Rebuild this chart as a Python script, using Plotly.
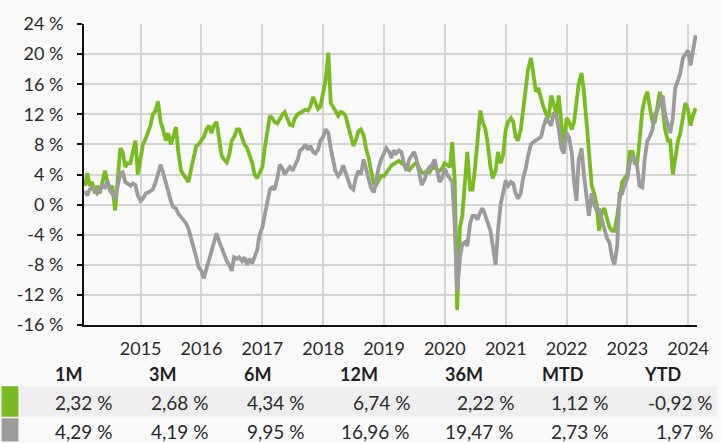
import pandas as pd
import plotly.graph_objects as go

# Semi-monthly cumulative performance (%), Feb 2014 - Feb 2024
fund_2014 = [2.5, 4.2, 2.5, 3.0, 1.5, 2.5, 1.5, 3.0, 4.5, 3.0, 2.0, 2.5, -0.8, 3.0, 7.5, 7.0, 5.0, 5.5, 5.5, 7.0, 8.5, 4.0]
fund_2015 = [6.0, 8.0, 8.8, 9.5, 10.5, 12.0, 12.5, 13.7, 11.0, 10.0, 8.5, 9.5, 8.0, 9.0, 10.3, 7.0, 4.5, 4.0, 3.5, 3.0, 4.8, 6.5, 7.8, 8.0]
fund_2016 = [8.5, 9.0, 10.0, 10.5, 9.5, 10.5, 11.0, 8.5, 6.5, 6.0, 5.6, 6.5, 8.5, 9.0, 10.0, 10.0, 9.0, 8.0, 7.5, 6.5, 5.5, 4.0, 3.5, 4.2]
fund_2017 = [5.0, 7.5, 10.0, 11.8, 11.5, 11.0, 10.8, 11.5, 12.0, 12.3, 11.5, 10.6, 10.5, 11.5, 12.0, 12.2, 12.4, 12.6, 12.5, 13.0, 14.3, 13.5, 12.7, 13.0]
fund_2018 = [15.0, 16.5, 20.2, 13.5, 13.0, 12.5, 11.8, 12.3, 12.2, 11.8, 10.5, 9.0, 7.8, 8.5, 9.8, 10.0, 9.2, 7.5, 6.2, 4.5, 2.8, 2.6, 3.2, 3.8]
fund_2019 = [3.8, 4.3, 4.8, 5.2, 5.4, 5.6, 5.8, 5.5, 5.3, 4.8, 4.6, 5.0, 5.4, 5.6, 4.8, 4.3, 4.2, 4.5, 4.3, 4.8, 5.0, 4.6, 4.5, 4.8]
fund_2020 = [5.5, 5.3, 5.0, 8.3, 3.0, -14.0, -3.0, -1.5, 2.5, 7.0, 2.0, 2.0, 5.0, 8.5, 12.5, 11.0, 10.0, 8.0, 5.0, 3.5, 4.5, 7.0, 5.5, 6.5]
fund_2021 = [10.0, 11.0, 11.5, 11.0, 9.0, 8.5, 10.0, 12.5, 15.5, 18.0, 19.5, 17.0, 15.0, 15.5, 14.0, 13.0, 12.0, 11.5, 14.5, 13.5, 12.0, 14.5, 11.0, 7.5]
fund_2022 = [11.5, 11.0, 10.0, 11.0, 13.5, 16.0, 17.5, 15.0, 11.0, 6.5, 2.5, 1.5, 0.0, -3.5, -1.0, -0.5, -2.0, -3.0, -3.5, -3.5, -1.5, 0.5, 3.0, 3.5]
fund_2023 = [4.0, 7.0, 7.0, 5.5, 5.5, 8.5, 12.5, 14.0, 15.0, 13.0, 11.0, 11.0, 13.0, 15.0, 13.0, 10.0, 8.5, 8.5, 4.0, 6.0, 8.5, 9.5, 12.0, 13.5]
fund_2024 = [12.5, 10.5, 12.0, 12.8]

bench_2014 = [1.8, 1.2, 2.0, 2.2, 2.0, 1.5, 2.0, 2.5, 2.3, 3.2, 1.8, 1.5, 0.8, 2.5, 4.2, 4.3, 3.0, 2.8, 2.5, 2.8, 2.6, 1.2]
bench_2015 = [0.5, 0.8, 1.5, 1.6, 1.8, 2.0, 3.0, 4.3, 5.3, 4.3, 2.8, 1.5, 0.5, -0.3, -0.5, -1.2, -1.7, -2.0, -2.5, -3.2, -4.5, -5.5, -7.0, -8.3]
bench_2016 = [-8.8, -9.8, -8.5, -7.3, -6.0, -5.0, -3.8, -4.8, -5.8, -6.8, -7.5, -8.0, -8.8, -7.0, -7.2, -7.0, -7.5, -7.0, -8.0, -7.2, -7.8, -7.0, -6.0, -4.0]
bench_2017 = [-3.0, -1.4, 0.5, 2.0, 2.3, 2.0, 3.5, 5.3, 4.8, 4.0, 4.6, 5.0, 4.5, 5.3, 6.0, 7.2, 7.5, 8.0, 7.3, 7.8, 7.0, 6.8, 7.3, 8.5]
bench_2018 = [9.0, 10.0, 9.5, 7.5, 5.8, 4.5, 3.8, 4.2, 5.2, 4.2, 3.0, 2.3, 2.0, 3.5, 4.5, 4.0, 6.0, 4.8, 3.5, 2.2, 1.6, 3.5, 5.0, 6.0]
bench_2019 = [6.8, 7.5, 7.0, 6.2, 7.2, 6.8, 7.2, 7.0, 5.5, 4.5, 6.0, 6.5, 7.0, 6.0, 4.0, 2.6, 3.3, 4.3, 5.0, 5.2, 6.0, 4.8, 3.0, 3.5]
bench_2020 = [4.8, 4.0, 3.5, 3.0, -3.0, -11.5, -7.0, -5.3, -5.0, -5.5, -2.5, -1.5, -1.5, -2.0, -1.0, -0.5, -1.5, -2.5, -3.5, -5.5, -8.0, -3.5, 0.0, 1.5]
bench_2021 = [3.2, 2.5, 3.0, 2.8, 1.5, 0.8, 1.5, 3.5, 4.8, 6.5, 8.0, 8.3, 8.5, 8.7, 9.0, 10.3, 11.5, 11.0, 10.5, 12.2, 11.8, 10.0, 7.5, 6.8]
bench_2022 = [9.5, 9.0, 7.0, 3.0, 0.5, 6.0, 7.5, 4.0, 1.5, -1.5, 1.5, 0.0, -0.8, -0.5, -2.0, -3.0, -4.5, -5.0, -7.0, -8.0, -5.5, 1.5, 1.5, 2.5]
bench_2023 = [3.5, 5.5, 6.5, 6.0, 5.0, 2.5, 2.3, 6.0, 8.5, 9.0, 10.0, 12.0, 12.5, 13.5, 14.5, 12.0, 10.5, 9.5, 11.5, 15.5, 16.5, 17.5, 19.5, 20.0]
bench_2024 = [20.5, 18.5, 20.5, 22.5]

fund = (fund_2014 + fund_2015 + fund_2016 + fund_2017 + fund_2018 + fund_2019
        + fund_2020 + fund_2021 + fund_2022 + fund_2023 + fund_2024)
bench = (bench_2014 + bench_2015 + bench_2016 + bench_2017 + bench_2018 + bench_2019
         + bench_2020 + bench_2021 + bench_2022 + bench_2023 + bench_2024)
dates = pd.date_range("2014-02-01", periods=len(fund), freq="SMS")

year_ticks = ["2015", "2016", "2017", "2018", "2019", "2020", "2021", "2022", "2023", "2024"]
y_ticks = [-16, -12, -8, -4, 0, 4, 8, 12, 16, 20, 24]

# Performance table
periods = ["1M", "3M", "6M", "12M", "36M", "MTD", "YTD"]
perf_fund = [2.32, 2.68, 4.34, 6.74, 2.22, 1.12, -0.92]
perf_bench = [4.29, 4.19, 9.95, 16.96, 19.47, 2.73, 1.97]

GREEN = "#79bc21"
GREY = "#9b9b9b"
BG = "#f9f9f9"
TEXT = "#2a2a2a"
FONT = "Lato"

W, H = 721, 443
L, R, T, B = 84, 20, 20, 118
PW, PH = W - L - R, H - T - B


def px(x):
    return (x - L) / PW


def py(y):
    return (H - B - y) / PH


def fmt(v):
    return f"{v:.2f}".replace(".", ",") + " %"


fig = go.Figure()
fig.add_trace(go.Scatter(x=dates, y=fund, mode="lines",
                         line=dict(color=GREEN, width=3.8), hoverinfo="skip"))
fig.add_trace(go.Scatter(x=dates, y=bench, mode="lines",
                         line=dict(color=GREY, width=3.8), hoverinfo="skip"))

fig.update_layout(
    width=W, height=H,
    margin=dict(l=L, r=R, t=T, b=B),
    paper_bgcolor=BG, plot_bgcolor=BG,
    showlegend=False,
    font=dict(family=FONT, color=TEXT, size=17),
)
fig.update_xaxes(
    range=["2014-01-26", "2024-02-23"],
    tickvals=[f"{y}-01-01" for y in year_ticks], ticktext=year_ticks,
    showgrid=True, gridcolor="#d4d4d4", gridwidth=2,
    showline=True, linecolor="#111111", linewidth=2,
    ticks="", tickfont=dict(size=18, family=FONT, color=TEXT),
    ticklabelstandoff=6, zeroline=False,
)
fig.update_yaxes(
    range=[-16, 24],
    tickvals=y_ticks, ticktext=[f"{v} %" for v in y_ticks],
    showgrid=True, gridcolor="#d4d4d4", gridwidth=2,
    showline=True, linecolor="#111111", linewidth=2,
    ticks="outside", ticklen=5, tickcolor="#111111", tickwidth=1.5,
    tickfont=dict(size=18, family=FONT, color=TEXT),
    ticklabelstandoff=10, zeroline=False,
)

shapes = [
    dict(type="rect", xref="paper", yref="paper", x0=px(20), x1=px(721),
         y0=py(418), y1=py(387), fillcolor="#eeeeee", line=dict(width=0), layer="below"),
    dict(type="rect", xref="paper", yref="paper", x0=px(1), x1=px(18),
         y0=py(418), y1=py(387), fillcolor=GREEN, line=dict(width=0)),
    dict(type="rect", xref="paper", yref="paper", x0=px(1), x1=px(18),
         y0=py(443), y1=py(419.5), fillcolor=GREY, line=dict(width=0)),
]
fig.update_layout(shapes=shapes)

head_left = [53, 147, 243, 340, 445, 543, 646]
val_right = [114, 211, 307, 414, 519, 613, 719]
ann = []
for i, p in enumerate(periods):
    ann.append(dict(x=px(head_left[i]), y=py(375), xref="paper", yref="paper",
                    text=f"<b>{p}</b>", showarrow=False, xanchor="left", yanchor="middle",
                    font=dict(size=18, family=FONT, color="#1e1e1e")))
    ann.append(dict(x=px(val_right[i]), y=py(404), xref="paper", yref="paper",
                    text=fmt(perf_fund[i]), showarrow=False, xanchor="right", yanchor="middle",
                    font=dict(size=19, family=FONT, color=TEXT)))
    ann.append(dict(x=px(val_right[i]), y=py(433), xref="paper", yref="paper",
                    text=fmt(perf_bench[i]), showarrow=False, xanchor="right", yanchor="middle",
                    font=dict(size=19, family=FONT, color=TEXT)))
fig.update_layout(annotations=ann)

fig.write_html("out.html")
